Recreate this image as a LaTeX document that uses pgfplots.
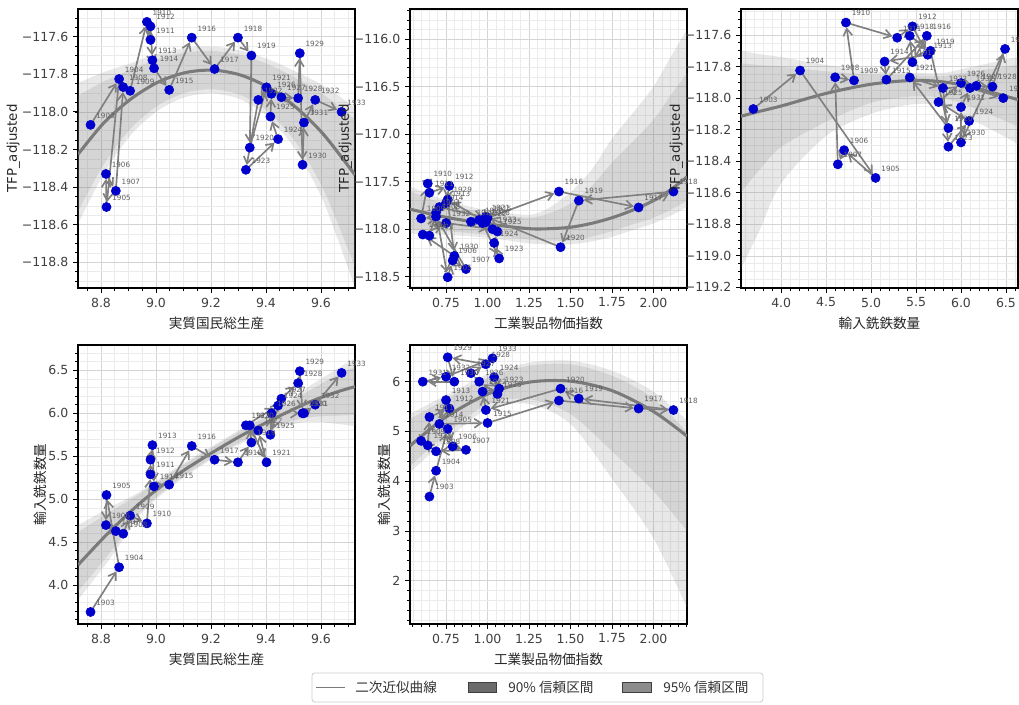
\documentclass[border=0pt]{standalone}
\usepackage{fontspec}
\setmainfont{DejaVu Sans}
\newfontfamily\jp{Noto Sans CJK JP}
\usepackage{pgfplots}
\usepackage{pgfplotstable}
\pgfplotsset{compat=1.18}
\usepgfplotslibrary{fillbetween}
\usetikzlibrary{arrows.meta}

\definecolor{ptblue}{RGB}{0,0,205}
\definecolor{arrowgray}{RGB}{128,128,128}
\definecolor{fitgray}{RGB}{122,122,122}
\definecolor{bandgray}{RGB}{128,128,128}
\definecolor{yeargray}{RGB}{95,95,95}

% year, real GNP, industrial price index, pig iron imports, adjusted TFP
\pgfplotstableread{
year gnp price iron tfp
1903 8.762 0.65 3.69 -118.069
1904 8.866 0.69 4.21 -117.825
1905 8.820 0.76 5.05 -118.506
1906 8.818 0.79 4.70 -118.330
1907 8.854 0.87 4.63 -118.420
1908 8.881 0.69 4.60 -117.868
1909 8.906 0.60 4.81 -117.888
1910 8.967 0.64 4.72 -117.521
1911 8.980 0.65 5.29 -117.617
1912 8.980 0.77 5.46 -117.545
1913 8.987 0.75 5.63 -117.725
1914 8.993 0.71 5.15 -117.768
1915 9.048 1.00 5.17 -117.883
1916 9.130 1.43 5.62 -117.605
1917 9.213 1.91 5.46 -117.772
1918 9.298 2.12 5.43 -117.605
1919 9.347 1.55 5.66 -117.700
1920 9.341 1.44 5.86 -118.190
1921 9.402 0.99 5.43 -117.869
1922 9.372 0.97 5.80 -117.936
1923 9.327 1.07 5.86 -118.308
1924 9.444 1.04 6.09 -118.145
1925 9.416 1.06 5.75 -118.025
1926 9.420 0.95 6.00 -117.904
1927 9.456 0.90 6.17 -117.922
1928 9.517 0.99 6.35 -117.927
1929 9.523 0.76 6.49 -117.688
1930 9.533 0.80 6.00 -118.281
1931 9.538 0.61 6.00 -118.057
1932 9.579 0.75 6.10 -117.936
1933 9.675 1.03 6.47 -118.000
}\data
\pgfplotstablecreatecol[create col/expr={\nextrow{gnp}-\thisrow{gnp}}]{dgnp}\data
\pgfplotstablecreatecol[create col/expr={\nextrow{price}-\thisrow{price}}]{dprice}\data
\pgfplotstablecreatecol[create col/expr={\nextrow{iron}-\thisrow{iron}}]{diron}\data
\pgfplotstablecreatecol[create col/expr={\nextrow{tfp}-\thisrow{tfp}}]{dtfp}\data

% fitted curve and band edges
\pgfplotstableread{
x c u95 u90 l90 l95
8.7164 -118.226 -117.846 -117.914 -118.529 -118.596
8.81 -118.059 -117.789 -117.838 -118.280 -118.329
8.91 -117.930 -117.740 -117.774 -118.086 -118.120
9.01 -117.840 -117.690 -117.717 -117.963 -117.990
9.11 -117.790 -117.660 -117.683 -117.897 -117.920
9.21 -117.778 -117.653 -117.676 -117.880 -117.903
9.31 -117.805 -117.675 -117.698 -117.912 -117.935
9.41 -117.871 -117.721 -117.748 -118.002 -118.031
9.51 -117.977 -117.787 -117.821 -118.166 -118.207
9.61 -118.121 -117.861 -117.908 -118.416 -118.481
9.7237 -118.335 -117.975 -118.040 -118.827 -118.935
}\bandA
\pgfplotstableread{
x c u95 u90 l90 l95
0.533 -117.79 -117.55 -117.60 -118.00 -118.05
0.75 -117.875 -117.70 -117.74 -118.02 -118.06
1.0 -117.945 -117.80 -117.83 -118.06 -118.09
1.25 -117.995 -117.85 -117.88 -118.11 -118.15
1.375 -117.995 -117.77 -117.83 -118.12 -118.16
1.5 -117.98 -117.61 -117.73 -118.12 -118.16
1.625 -117.94 -117.38 -117.55 -118.08 -118.13
1.75 -117.88 -117.05 -117.30 -118.02 -118.08
1.875 -117.80 -116.78 -117.08 -117.95 -118.01
2.0 -117.70 -116.50 -116.85 -117.88 -117.94
2.1 -117.59 -116.20 -116.60 -117.80 -117.86
2.2017 -117.45 -115.90 -116.36 -117.70 -117.77
}\bandB
\pgfplotstableread{
x c u95 u90 l90 l95
3.553 -118.115 -117.70 -117.78 -118.60 -119.08
3.75 -118.085 -117.72 -117.79 -118.46 -118.85
4.0 -118.05 -117.74 -117.80 -118.31 -118.54
4.5 -117.97 -117.79 -117.83 -118.15 -118.24
5.0 -117.912 -117.83 -117.85 -118.03 -118.10
5.45 -117.888 -117.84 -117.855 -117.99 -118.04
5.8 -117.897 -117.84 -117.86 -118.00 -118.05
6.137 -117.932 -117.80 -117.83 -118.06 -118.14
6.634 -118.01 -117.74 -117.79 -118.18 -118.29
}\bandC
\pgfplotstableread{
x c u95 u90 l90 l95
8.7164 4.236 4.70 4.62 3.93 3.83
8.83 4.62 4.90 4.85 4.37 4.30
8.948 4.972 5.10 5.08 4.87 4.84
9.07 5.27 5.36 5.34 5.20 5.18
9.19 5.515 5.59 5.575 5.455 5.44
9.31 5.74 5.82 5.80 5.67 5.65
9.432 5.942 6.04 6.02 5.85 5.82
9.55 6.12 6.30 6.25 5.95 5.90
9.65 6.24 6.50 6.43 5.97 5.88
9.7237 6.31 6.64 6.54 5.98 5.85
}\bandD
\pgfplotstableread{
x c u95 u90 l90 l95
0.533 4.71 5.35 5.25 4.30 4.18
0.75 5.29 5.73 5.65 4.95 4.82
1.0 5.75 6.15 6.08 5.55 5.45
1.25 5.99 6.38 6.32 5.65 5.55
1.5 6.01 6.42 6.35 5.35 5.15
1.75 5.82 6.22 6.12 4.60 4.05
2.0 5.40 5.80 5.66 3.80 2.85
2.2017 4.905 5.22 4.98 3.00 1.45
}\bandE

\pgfplotsset{
  panel/.style={
    scale only axis, width=199.44pt, height=200.88pt, anchor=north west,
    axis line style={black, line width=0.8pt},
    grid=both,
    major grid style={color=black!17, line width=0.45pt},
    minor grid style={color=black!8, line width=0.4pt},
    tick align=outside, xtick pos=bottom, ytick pos=left,
    major tick length=3.5pt, minor tick length=2pt,
    every tick/.style={black, line width=0.6pt},
    tick label style={font=\fontsize{9}{10}\selectfont, text=black!75},
    label style={font=\jp\fontsize{9.8}{11}\selectfont, text=black!85},
    ylabel style={yshift=-5.5pt},
  },
  tfplabel/.style={ylabel={TFP\_adjusted}, ylabel style={font=\fontsize{9.6}{11}\selectfont}},
}

% band, fit, points, arrows and year labels for one panel
\newcommand{\bands}[2]{%
  \addplot[name path=#2a, draw=none, smooth] table[x=x,y=u95]{#1};
  \addplot[name path=#2b, draw=none, smooth] table[x=x,y=l95]{#1};
  \addplot[draw=none, fill=bandgray, fill opacity=0.18] fill between[of=#2a and #2b];
  \addplot[name path=#2c, draw=none, smooth] table[x=x,y=u90]{#1};
  \addplot[name path=#2d, draw=none, smooth] table[x=x,y=l90]{#1};
  \addplot[draw=none, fill=bandgray, fill opacity=0.18] fill between[of=#2c and #2d];
  \addplot[fitgray, line width=2.2pt, smooth] table[x=x,y=c]{#1};
}
\newcommand{\traj}[2]{%
  \addplot[only marks, mark=*, mark size=3.3pt, ptblue] table[x=#1,y=#2]{\data};
  \addplot[arrowgray, line width=1.2pt, -{Straight Barb[length=5pt,width=6.5pt]},
    quiver={u=\thisrow{d#1}, v=\thisrow{d#2},
      every arrow/.append style={shorten >=3.5pt, shorten <=2.5pt}},
    skip coords between index={30}{31}] table[x=#1,y=#2]{\data};
  \addplot[draw=none, nodes near coords={\pgfplotspointmeta}, point meta=explicit symbolic,
    every node near coord/.append style={font=\fontsize{5.2}{6}\selectfont, text=yeargray,
      anchor=south west, inner sep=0pt, xshift=4pt, yshift=4.5pt}]
    table[x=#1,y=#2,meta=year]{\data};
}

\begin{document}
\begin{tikzpicture}

\begin{axis}[panel, at={(56.16pt,-6.48pt)}, tfplabel,
  xmin=8.7164, xmax=9.7237, ymin=-118.9367, ymax=-117.4527,
  xtick={8.8,9.0,9.2,9.4,9.6}, xticklabels={8.8,9.0,9.2,9.4,9.6},
  minor xtick={8.75,8.80,...,9.70},
  ytick={-118.8,-118.6,-118.4,-118.2,-118.0,-117.8,-117.6},
  yticklabels={−118.8,−118.6,−118.4,−118.2,−118.0,−117.8,−117.6},
  minor ytick={-118.90,-118.85,...,-117.45},
  xlabel={実質国民総生産}]
  \bands{\bandA}{pa}
  \traj{gnp}{tfp}
\end{axis}

\begin{axis}[panel, at={(295.2pt,-6.48pt)}, tfplabel,
  xmin=0.533, xmax=2.2017, ymin=-118.619, ymax=-115.685,
  xtick={0.75,1.0,1.25,1.5,1.75,2.0}, xticklabels={0.75,1.00,1.25,1.50,1.75,2.00},
  minor xtick={0.55,0.60,...,2.20},
  ytick={-118.5,-118,-117.5,-117,-116.5,-116},
  yticklabels={−118.5,−118.0,−117.5,−117.0,−116.5,−116.0},
  minor ytick={-118.6,-118.5,...,-115.7},
  xlabel={工業製品物価指数}]
  \bands{\bandB}{pb}
  \traj{price}{tfp}
\end{axis}

\begin{axis}[panel, at={(533.52pt,-6.48pt)}, tfplabel,
  xmin=3.553, xmax=6.634, ymin=-119.204, ymax=-117.435,
  xtick={4.0,4.5,5.0,5.5,6.0,6.5}, xticklabels={4.0,4.5,5.0,5.5,6.0,6.5},
  minor xtick={3.6,3.7,...,6.6},
  ytick={-119.2,-119.0,-118.8,-118.6,-118.4,-118.2,-118.0,-117.8,-117.6},
  yticklabels={−119.2,−119.0,−118.8,−118.6,−118.4,−118.2,−118.0,−117.8,−117.6},
  minor ytick={-119.20,-119.15,...,-117.45},
  xlabel={輸入銑鉄数量}]
  \bands{\bandC}{pc}
  \traj{iron}{tfp}
\end{axis}

\begin{axis}[panel, at={(56.16pt,-248.4pt)},
  xmin=8.7164, xmax=9.7237, ymin=3.55, ymax=6.794,
  xtick={8.8,9.0,9.2,9.4,9.6}, xticklabels={8.8,9.0,9.2,9.4,9.6},
  minor xtick={8.75,8.80,...,9.70},
  ytick={4.0,4.5,5.0,5.5,6.0,6.5}, yticklabels={4.0,4.5,5.0,5.5,6.0,6.5},
  minor ytick={3.6,3.7,...,6.7},
  xlabel={実質国民総生産}, ylabel={輸入銑鉄数量}]
  \bands{\bandD}{pd}
  \traj{gnp}{iron}
\end{axis}

\begin{axis}[panel, at={(295.2pt,-248.4pt)},
  xmin=0.533, xmax=2.2017, ymin=1.129, ymax=6.737,
  xtick={0.75,1.0,1.25,1.5,1.75,2.0}, xticklabels={0.75,1.00,1.25,1.50,1.75,2.00},
  minor xtick={0.55,0.60,...,2.20},
  ytick={2,3,4,5,6}, yticklabels={2,3,4,5,6},
  minor ytick={1.2,1.4,...,6.6},
  xlabel={工業製品物価指数}, ylabel={輸入銑鉄数量}]
  \bands{\bandE}{pe}
  \traj{price}{iron}
\end{axis}

% legend
\draw[black!20, fill=white, rounded corners=2pt, line width=0.6pt]
  (224.64pt,-484.56pt) rectangle (549.36pt,-505.44pt);
\draw[fitgray, line width=1.4pt] (227.5pt,-495pt) -- (248.4pt,-495pt);
\node[anchor=west, inner sep=0pt, font=\jp\fontsize{9.8}{11}\selectfont, text=black!80]
  at (255.6pt,-495pt) {二次近似曲線};
\draw[fill=black!58, draw=black!75, line width=0.5pt] (337pt,-491.4pt) rectangle (357.1pt,-498.6pt);
\node[anchor=west, inner sep=0pt, font=\jp\fontsize{9.8}{11}\selectfont, text=black!80]
  at (365.8pt,-495pt) {90\% 信頼区間};
\draw[fill=black!45, draw=black!75, line width=0.5pt] (447.8pt,-491.4pt) rectangle (468.7pt,-498.6pt);
\node[anchor=west, inner sep=0pt, font=\jp\fontsize{9.8}{11}\selectfont, text=black!80]
  at (477.4pt,-495pt) {95\% 信頼区間};

\pgfresetboundingbox
\path[use as bounding box] (0,0) rectangle (733.68pt,-506.88pt);
\end{tikzpicture}
\end{document}
